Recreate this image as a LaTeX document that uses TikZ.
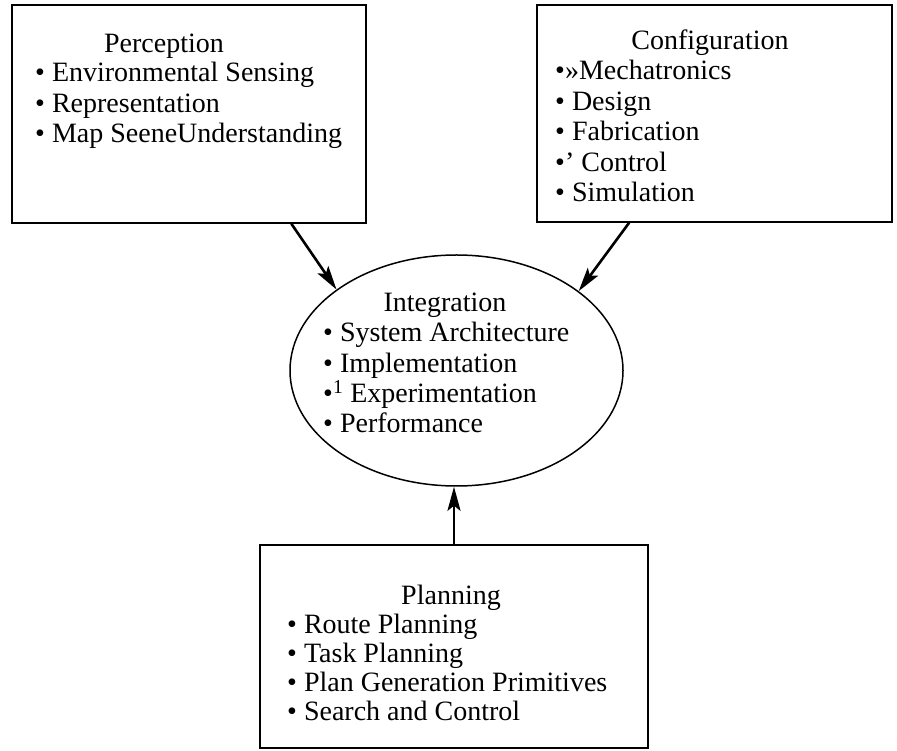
\documentclass[tikz,border=0pt]{standalone}
\usepackage{fontspec}
\setmainfont{Liberation Serif}
\usetikzlibrary{arrows.meta,shapes.geometric}

\begin{document}
\begin{tikzpicture}[x=1pt,y=1pt,
	box/.style={draw, line width=1.5pt, inner sep=0pt},
	txt/.style={anchor=base, inner sep=0pt, font=\fontsize{28}{30}\selectfont},
	item/.style={txt, anchor=base west},
	link/.style={line width=2.6pt, -{Stealth[length=24pt,width=13pt,inset=5pt]}}]
	\useasboundingbox (0,0) rectangle (897,750);

	\node[box, minimum width=354pt, minimum height=218pt] (perc) at (189,636) {};
	\node[box, minimum width=355pt, minimum height=217pt] (conf) at (714.5,636.5) {};
	\node[box, ellipse, minimum width=333pt, minimum height=231pt] (integ) at (456.5,379.5) {};
	\node[box, minimum width=388pt, minimum height=203pt] (plan) at (454,103.5) {};

	% Perception
	\node[txt] (percT) at (164,697) {Perception};
	\foreach \t [count=\i] in {Environmental Sensing, Representation, Map SeeneUnderstanding}
		\node[item] (perc\i) at (35,698.5-30.5*\i) {\textbullet\ \t};

	% Configuration
	\node[txt] (confT) at (710,700) {Configuration};
	\foreach \t [count=\i] in {\textbullet»Mechatronics, \textbullet\ Design, \textbullet\ Fabrication,
			\textbullet' Control, \textbullet\ Simulation}
		\node[item] (conf\i) at (555,700.5-30.5*\i) {\t};

	% Integration
	\node[txt] (integT) at (445,438) {Integration};
	\foreach \t [count=\i] in {\textbullet\ System Architecture, \textbullet\ Implementation,
			\textbullet\textsuperscript{1} Experimentation, \textbullet\ Performance}
		\node[item] (integ\i) at (323,438.3-30.3*\i) {\t};

	% Planning
	\node[txt] (planT) at (451,145) {Planning};
	\foreach \t [count=\i] in {Route Planning, Task Planning, Plan Generation Primitives, Search and Control}
		\node[item] (plan\i) at (287,146-29*\i) {\textbullet\ \t};

	\draw[link] (perc.-47) -- (integ.146);
	\draw[link] (conf.-128.6) -- (integ.33);
	\draw[link] (plan.north) -- (plan.north |- integ.south);

\end{tikzpicture}
\end{document}
